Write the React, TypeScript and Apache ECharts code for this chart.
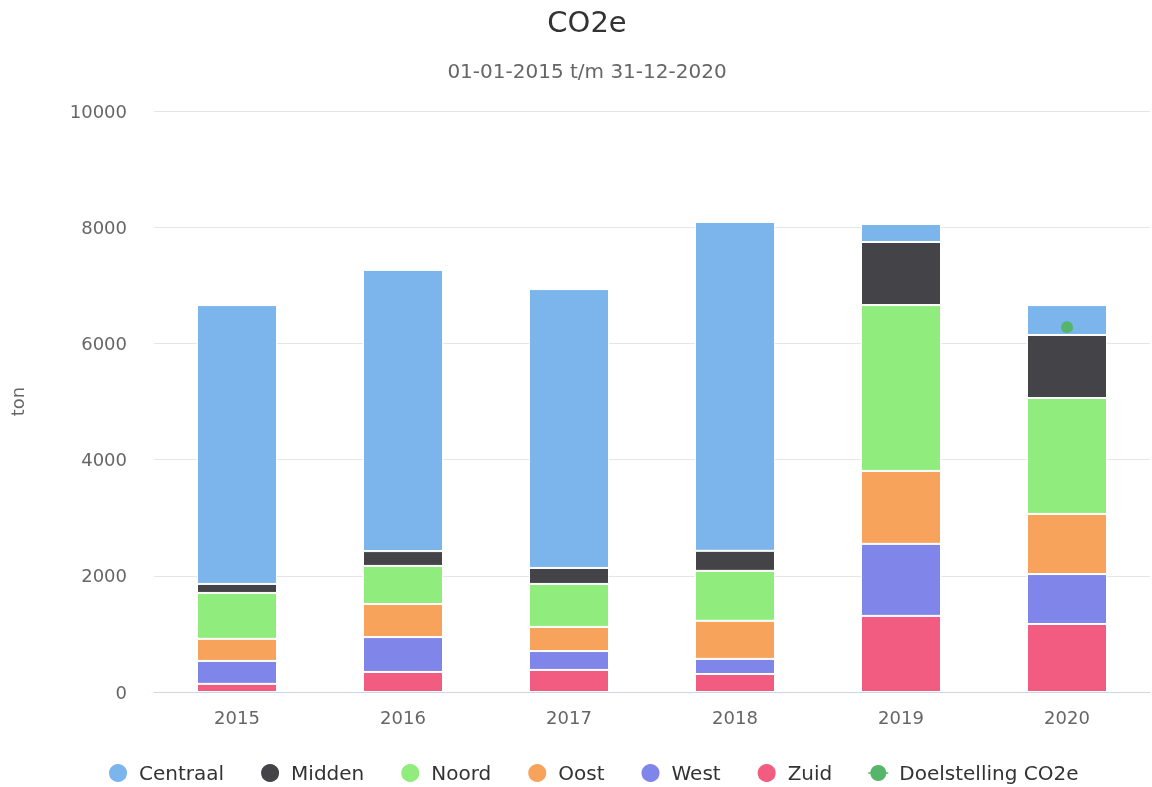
import React, { useEffect, useRef } from "react";
import * as echarts from "echarts";

const years = ["2015", "2016", "2017", "2018", "2019", "2020"];
const zuid = [140, 345, 380, 310, 1310, 1170];
const west = [395, 600, 325, 260, 1240, 860];
const oost = [380, 570, 415, 655, 1255, 1035];
const noord = [790, 655, 740, 860, 2855, 1995];
const midden = [155, 255, 275, 345, 1085, 1085];
const centraal = [4800, 4840, 4800, 5660, 310, 515];
const doelstelling = [null, null, null, null, null, 6280];
const yTicks = [0, 2000, 4000, 6000, 8000, 10000];

const FONT = "DejaVu Sans";

export default function App() {
  const ref = useRef<HTMLDivElement>(null);
  useEffect(() => {
    const chart = echarts.init(ref.current!, null, { renderer: "svg" });
    const barSeries = (name: string, data: number[], color: string) => ({
      name,
      type: "bar",
      stack: "total",
      data,
      barWidth: 80,
      itemStyle: { color, borderColor: "#ffffff", borderWidth: 1 },
    });
    chart.setOption({
      animation: false,
      textStyle: { fontFamily: FONT },
      title: {
        text: "CO2e",
        subtext: "01-01-2015 t/m 31-12-2020",
        left: 582,
        textAlign: "center",
        top: 2,
        itemGap: 25,
        textStyle: { fontFamily: FONT, fontSize: 29, fontWeight: "normal", color: "#333333" },
        subtextStyle: { fontFamily: FONT, fontSize: 20, color: "#666666" },
      },
      grid: { left: 152, right: 2, top: 111, bottom: 95 },
      legend: {
        top: 757,
        left: 102,
        itemWidth: 20,
        itemHeight: 20,
        itemGap: 35,
        textStyle: { fontFamily: FONT, fontSize: 20, color: "#333333", padding: [0, 0, 0, 6] },
        data: [
          { name: "Centraal", icon: "circle" },
          { name: "Midden", icon: "circle" },
          { name: "Noord", icon: "circle" },
          { name: "Oost", icon: "circle" },
          { name: "West", icon: "circle" },
          { name: "Zuid", icon: "circle" },
          { name: "Doelstelling CO2e" },
        ],
      },
      xAxis: {
        type: "category",
        data: years,
        axisLine: { lineStyle: { color: "#ccd6eb", width: 1 } },
        axisTick: { show: false },
        axisLabel: { fontFamily: FONT, fontSize: 18, color: "#666666", margin: 16 },
      },
      yAxis: {
        type: "value",
        min: yTicks[0],
        max: yTicks[yTicks.length - 1],
        interval: 2000,
        name: "ton",
        nameLocation: "middle",
        nameGap: 128,
        nameRotate: 90,
        nameTextStyle: { fontFamily: FONT, fontSize: 18, color: "#666666" },
        axisLine: { show: false },
        axisTick: { show: false },
        splitLine: { lineStyle: { color: "#e6e6e6", width: 1 } },
        axisLabel: {
          fontFamily: FONT,
          fontSize: 18,
          color: "#666666",
          margin: 27,
          formatter: (v: number) => String(v),
        },
      },
      series: [
        barSeries("Zuid", zuid, "#f15c80"),
        barSeries("West", west, "#8085e9"),
        barSeries("Oost", oost, "#f7a35c"),
        barSeries("Noord", noord, "#90ed7d"),
        barSeries("Midden", midden, "#434348"),
        barSeries("Centraal", centraal, "#7cb5ec"),
        {
          name: "Doelstelling CO2e",
          type: "line",
          data: doelstelling,
          symbol: "circle",
          symbolSize: 12,
          itemStyle: { color: "#55b56a" },
          lineStyle: { color: "#7ccf7e", width: 3 },
        },
      ],
    });
    return () => chart.dispose();
  }, []);
  return (
    <div
      ref={ref}
      style={{ position: "fixed", left: 0, top: 0, width: 1152, height: 787 }}
    />
  );
}
